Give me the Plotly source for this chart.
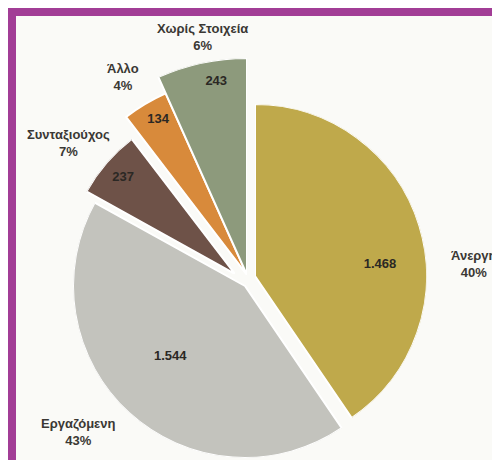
import plotly.graph_objects as go

labels = ["Άνεργη", "Εργαζόμενη", "Συνταξιούχος", "Άλλο", "Χωρίς Στοιχεία"]
values = [1468, 1544, 237, 134, 243]
percents = ["40%", "43%", "7%", "4%", "6%"]
colors = ["#BFA94B", "#C3C3BD", "#6E5248", "#D88A3B", "#8D9A7C"]

W, H = 500, 460
OFF = 8  # the page body shifts the figure by 8px

# exploded slices: each group gets its own polar subplot (centre px from top-left, radius px)
groups = [
    {"members": [0], "centre": (255, 276), "sector": [-90, 90]},
    {"members": [1], "centre": (245, 286), "sector": [0, 360]},
    {"members": [2], "centre": (235, 274), "sector": [90, 180]},
    {"members": [3, 4], "centre": (247, 275), "sector": [90, 180]},
]
radius = [172, 172, 170, 199, 217]
# value label placement inside each slice: fraction of radius, angle offset from mid
text_r = [0.73, 0.6, 0.87, 0.9, 0.9]
text_dtheta = [12, 4, 0, 1, 3]

# outside labels (px centre of the two-line block)
label_px = [(474, 264), (78, 432), (68, 143), (123, 77), (202, 37)]

font_in = {"family": "Liberation Sans", "size": 13, "color": "#2b2824"}

total = sum(values)
starts = [sum(values[:i]) / total * 360 for i in range(len(values))]
widths = [v / total * 360 for v in values]
mids = [s + w / 2 for s, w in zip(starts, widths)]


def sector_box(sector):
    # unit bounding box of a polar sector (x0, x1, y0, y1)
    if sector == [0, 360]:
        return -1, 1, -1, 1
    if sector == [-90, 90]:
        return 0, 1, -1, 1
    return -1, 0, 0, 1  # [90, 180]


fig = go.Figure()
layout_polars = {}
for k, g in enumerate(groups):
    name = "polar" if k == 0 else f"polar{k + 1}"
    m = g["members"]
    rmax = max(radius[i] for i in m)
    gx, gy = g["centre"][0] - OFF, g["centre"][1] - OFF
    bx0, bx1, by0, by1 = sector_box(g["sector"])
    fig.add_trace(
        go.Barpolar(
            theta=[mids[i] for i in m],
            width=[widths[i] for i in m],
            r=[radius[i] for i in m],
            marker={"color": [colors[i] for i in m], "line": {"color": "white", "width": 2}},
            hovertext=[f"{labels[i]}: {values[i]}" for i in m],
            hoverinfo="text",
            showlegend=False,
            subplot=name,
        )
    )
    fig.add_trace(
        go.Scatterpolar(
            theta=[mids[i] + text_dtheta[i] for i in m],
            r=[radius[i] * text_r[i] for i in m],
            mode="text",
            text=[f"<b>{values[i]:,}</b>".replace(",", ".") for i in m],
            textfont=font_in,
            showlegend=False,
            hoverinfo="skip",
            subplot=name,
        )
    )
    layout_polars[name] = {
        "domain": {
            "x": [(gx + bx0 * rmax) / W, (gx + bx1 * rmax) / W],
            "y": [(H - gy + by0 * rmax) / H, (H - gy + by1 * rmax) / H],
        },
        "sector": g["sector"],
        "bgcolor": "rgba(0,0,0,0)",
        "radialaxis": {"visible": False, "range": [0, rmax]},
        "angularaxis": {"visible": False, "rotation": 90, "direction": "clockwise"},
    }

fig.update_layout(**layout_polars)

for lab, pct, (x, y) in zip(labels, percents, label_px):
    fig.add_annotation(
        x=(x - OFF) / W,
        y=1 - (y - OFF) / H,
        xref="paper",
        yref="paper",
        xanchor="center",
        yanchor="middle",
        text=f"<b>{lab}<br>{pct}</b>",
        showarrow=False,
        font={"family": "Liberation Sans", "size": 13, "color": "#3a3834"},
        align="center",
    )

# purple frame (top and left edges visible)
fig.add_shape(
    type="rect",
    xref="paper",
    yref="paper",
    x0=4 / W,
    x1=1.2,
    y0=-0.2,
    y1=1 - 4 / H,
    line={"color": "#A23D96", "width": 8},
    fillcolor="#FAFAF7",
    layer="below",
)

fig.update_layout(
    width=W,
    height=H,
    margin={"l": 0, "r": 0, "t": 0, "b": 0},
    paper_bgcolor="white",
)

fig.write_html("out.html")
